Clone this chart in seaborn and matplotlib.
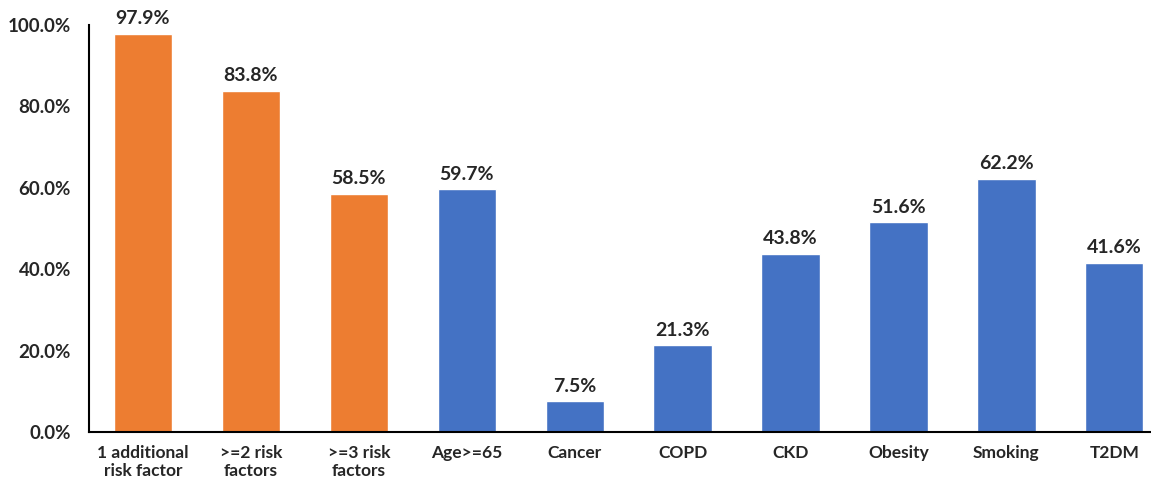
import matplotlib
matplotlib.use("Agg")
import matplotlib.pyplot as plt
import pandas as pd
import seaborn as sns
from matplotlib.ticker import PercentFormatter

categories = ["1 additional\nrisk factor", ">=2 risk\nfactors", ">=3 risk\nfactors", "Age>=65",
              "Cancer", "COPD", "CKD", "Obesity", "Smoking", "T2DM"]
values = [97.9, 83.8, 58.5, 59.7, 7.5, 21.3, 43.8, 51.6, 62.2, 41.6]
groups = ["count", "count", "count", "factor", "factor", "factor", "factor", "factor", "factor", "factor"]

_ORANGE = "#ED7D31"
_BLUE = "#4472C4"

sns.set_style("white")
plt.rcParams["font.family"] = ["Lato", "DejaVu Sans"]

df = pd.DataFrame({"cat": categories, "val": values, "grp": groups})

fig = plt.figure(figsize=(11.51, 4.82), dpi=100)
ax = fig.add_axes([0.0773, 0.1037, 0.9227, 0.8443])
sns.barplot(data=df, x="cat", y="val", hue="grp", order=categories,
            palette={"count": _ORANGE, "factor": _BLUE}, dodge=False,
            width=0.54, legend=False, ax=ax, saturation=1)

for bar, v in zip(ax.patches, values):
    ax.text(bar.get_x() + bar.get_width() / 2, v + 1.6, f"{v:.1f}%",
            ha="center", va="bottom", fontsize=14, fontweight="bold")

ax.set_ylim(0, 100)
ax.set_xlim(-0.5, 9.34)
ax.set_yticks(range(0, 101, 20))
ax.yaxis.set_major_formatter(PercentFormatter(decimals=1))
ax.set_xlabel("")
ax.set_ylabel("")
ax.tick_params(axis="y", length=0, labelsize=13.5, pad=13)
ax.tick_params(axis="x", length=0, labelsize=12.5, pad=9)
for lbl in ax.get_xticklabels() + ax.get_yticklabels():
    lbl.set_fontweight("bold")
for s in ("top", "right"):
    ax.spines[s].set_visible(False)
for s in ("left", "bottom"):
    ax.spines[s].set_color("black")
    ax.spines[s].set_linewidth(1.5)

fig.savefig("out.png", dpi=100)
